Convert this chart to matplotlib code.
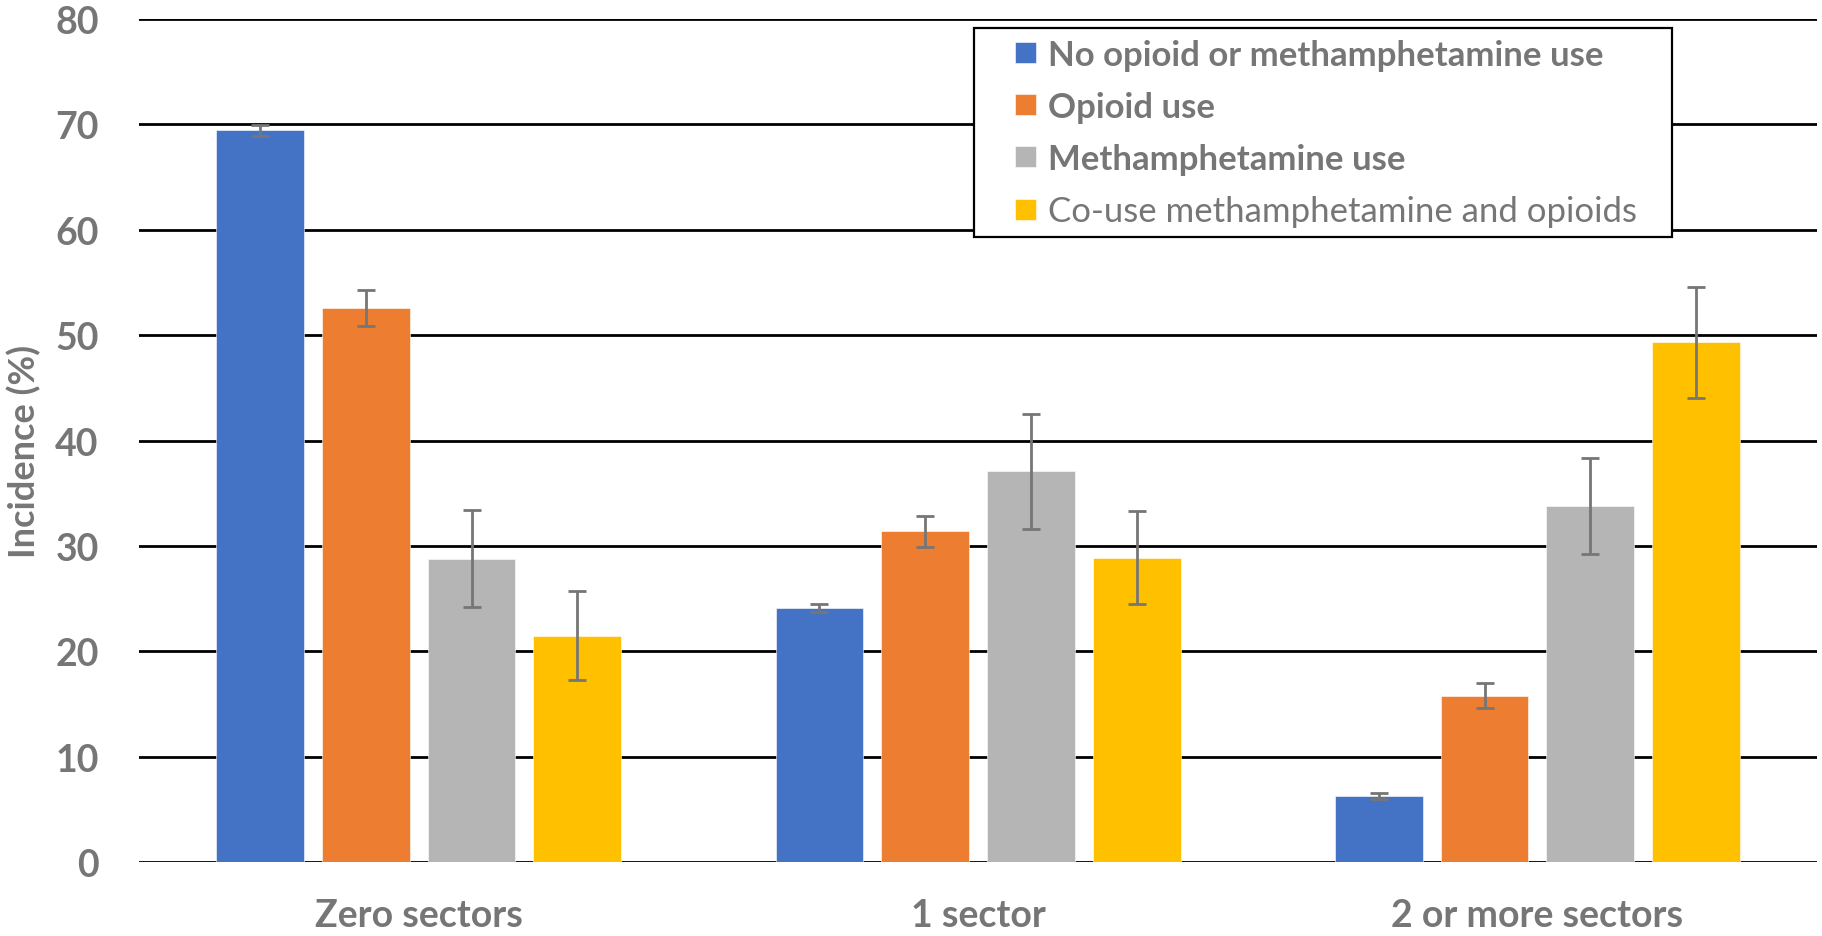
import numpy as np
import matplotlib.pyplot as plt
from matplotlib.patches import Rectangle

plt.rcParams['font.family'] = ['Lato', 'DejaVu Sans']

categories = ["Zero sectors", "1 sector", "2 or more sectors"]
series = ["No opioid or methamphetamine use", "Opioid use",
          "Methamphetamine use", "Co-use methamphetamine and opioids"]
colors = ["#4472C4", "#ED7D31", "#B5B5B5", "#FFC000"]

no_use = [69.4, 24.1, 6.3]
opioid = [52.6, 31.4, 15.8]
meth = [28.8, 37.1, 33.8]
co_use = [21.5, 28.9, 49.3]

no_use_err = [0.5, 0.4, 0.27]
opioid_err = [1.7, 1.45, 1.2]
meth_err = [4.6, 5.45, 4.55]
co_use_err = [4.25, 4.4, 5.3]

values = [no_use, opioid, meth, co_use]
errors = [no_use_err, opioid_err, meth_err, co_use_err]

grey = "#767676"

fig = plt.figure(figsize=(18.22, 9.37), dpi=100)
ax = fig.add_axes([0.0763, 0.0786, 0.921, 0.9004])

pos = np.arange(len(categories))
width = 0.157
step = 0.189
offsets = (np.arange(4) - 1.5) * step

for vals, errs, off, c, name in zip(values, errors, offsets, colors, series):
    ax.bar(pos + off, vals, width, color=c, label=name, zorder=2,
           edgecolor='white', linewidth=0.4)
    ax.errorbar(pos + off, vals, yerr=errs, fmt='none', ecolor=grey,
                elinewidth=2.0, capsize=6.5, capthick=2.0, zorder=3)

ax.set_xlim(-0.5, 2.5)
ax.set_ylim(0, 80)
ax.set_yticks(range(0, 81, 10))
ax.set_xticks(pos)
ax.set_xticklabels(categories)
ax.yaxis.grid(True, color='black', linewidth=2.0, zorder=1)
ax.set_axisbelow(True)
for s in ax.spines.values():
    s.set_visible(False)
ax.tick_params(axis='both', length=0, labelsize=27, colors=grey)
ax.tick_params(axis='y', pad=29)
ax.tick_params(axis='x', pad=26)
for t in ax.get_xticklabels() + ax.get_yticklabels():
    t.set_fontweight('bold')
ax.set_ylabel("Incidence (%)", fontsize=26, fontweight='bold', color=grey)
ax.yaxis.set_label_coords(-0.058, 0.488)

# legend frame drawn separately so the padding can differ by side
frame = Rectangle((974 / 1822, 1 - 238 / 937), 698 / 1822, 209 / 937,
                  transform=fig.transFigure, facecolor='white',
                  edgecolor='black', linewidth=1.6, zorder=5, clip_on=False)
ax.add_patch(frame)
leg = ax.legend(loc='upper left', bbox_to_anchor=(1008 / 1822, 1 - 33 / 937),
                bbox_transform=fig.transFigure, frameon=False, fontsize=25,
                handlelength=0.6, handleheight=0.55, handletextpad=0.35,
                labelspacing=0.58, borderpad=0.2, borderaxespad=0)
leg.set_zorder(6)
for i, t in enumerate(leg.get_texts()):
    t.set_color(grey)
    t.set_fontweight('bold' if i < 3 else 'normal')

plt.savefig("out.png", dpi=100)
